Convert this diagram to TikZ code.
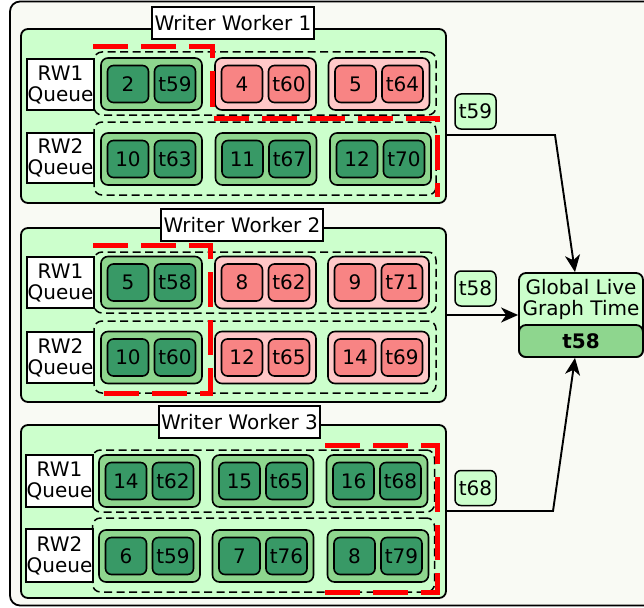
\documentclass[tikz,border=0pt]{standalone}
\usepackage{fontspec}
\setmainfont{DejaVu Sans}
\usetikzlibrary{arrows.meta}

\definecolor{bgpaper}{HTML}{F9FAF4}
\definecolor{paleg}{HTML}{CCFFCC}
\definecolor{midg}{HTML}{8ED68E}
\definecolor{darkg}{HTML}{389966}
\definecolor{palep}{HTML}{FFC8C8}
\definecolor{darkp}{HTML}{F88484}

\tikzset{
  txt/.style={font=\fontsize{20}{21}\selectfont},
  worker/.style={draw, fill=paleg, rounded corners=7pt, line width=1.8pt, inner sep=0pt},
  wtitle/.style={draw, fill=white, line width=1.6pt, txt, inner sep=0pt,
    minimum height=32pt},
  qlabel/.style={draw, fill=white, line width=1.5pt, txt, align=center,
    inner sep=0pt, minimum width=67pt},
  qdash/.style={draw, dash pattern=on 8pt off 4.5pt, line width=1.5pt,
    rounded corners=8pt, inner sep=0pt, minimum width=342pt},
  pairG/.style={draw, fill=midg, rounded corners=7pt, line width=1.6pt,
    minimum width=101pt, minimum height=52pt, inner sep=0pt},
  pairR/.style={pairG, fill=palep},
  cellG/.style={draw, fill=darkg, rounded corners=6pt, line width=1.6pt,
    minimum width=41pt, minimum height=37pt, inner sep=0pt, txt},
  cellR/.style={cellG, fill=darkp},
  tag/.style={draw, fill=paleg, rounded corners=6pt, line width=1.5pt,
    minimum width=41pt, minimum height=35pt, inner sep=0pt, txt},
  redline/.style={draw=red, line width=5pt, dash pattern=on 35pt off 13pt},
  flow/.style={line width=1.9pt, -{Stealth[length=17pt,width=15pt,inset=5pt]}},
}

% #1 name, #2 x, #3 y, #4 G or R, #5 count, #6 timestamp
\newcommand\qpair[6]{%
  \node[pair#4] (#1) at (#2,#3) {};
  \node[cell#4] (#1-n) at ([xshift=-23.5pt]#1.center) {#5};
  \node[cell#4] (#1-t) at ([xshift=23.5pt]#1.center) {#6};
}

\begin{document}
\begin{tikzpicture}[x=1pt,y=-1pt]
  \fill[white] (0,0) rectangle (644,607);
  \useasboundingbox (0,0) rectangle (644,607);
  \begin{scope}
    \clip (0,0) rectangle (644,607);
    \draw[fill=bgpaper, line width=1.8pt, rounded corners=10pt] (10,1.5) rectangle (670,605.5);
  \end{scope}

  % ---------------- Writer Worker 1 ----------------
  \node[worker, minimum width=425pt, minimum height=174pt] (w1) at (233.5,116) {};
  \node[wtitle, minimum width=162pt] (w1t) at (233,23) {Writer Worker 1};
  \node[qdash, minimum height=63pt] (w1q1) at (265,83.5) {};
  \node[qdash, minimum height=73pt] (w1q2) at (265,158.5) {};
  \node[qlabel, minimum height=51pt] (w1l1) at (60.5,84.5) {RW1\\Queue};
  \node[qlabel, minimum height=50pt] (w1l2) at (60.5,158) {RW2\\Queue};
  \qpair{a1}{151.5}{84}{G}{2}{t59}
  \qpair{a2}{265.5}{84}{R}{4}{t60}
  \qpair{a3}{379}{84}{R}{5}{t64}
  \qpair{a4}{151.5}{159}{G}{10}{t63}
  \qpair{a5}{266}{159}{G}{11}{t67}
  \qpair{a6}{380.5}{159}{G}{12}{t70}
  \draw[redline] (93,47) -- (212.5,47) -- (212.5,118) -- (437,118) -- (437,197);

  % ---------------- Writer Worker 2 ----------------
  \node[worker, minimum width=425pt, minimum height=174pt] (w2) at (233.5,315) {};
  \node[wtitle, minimum width=162pt] (w2t) at (242,225) {Writer Worker 2};
  \node[qdash, minimum height=61pt] (w2q1) at (265,282.5) {};
  \node[qdash, minimum height=72pt] (w2q2) at (265,357) {};
  \node[qlabel, minimum height=51pt] (w2l1) at (60.5,282.5) {RW1\\Queue};
  \node[qlabel, minimum height=51pt] (w2l2) at (60.5,357.5) {RW2\\Queue};
  \qpair{b1}{151.5}{282.5}{G}{5}{t58}
  \qpair{b2}{265.5}{282.5}{R}{8}{t62}
  \qpair{b3}{378.5}{282.5}{R}{9}{t71}
  \qpair{b4}{151.5}{357.5}{G}{10}{t60}
  \qpair{b5}{265.5}{357.5}{R}{12}{t65}
  \qpair{b6}{378.5}{357.5}{R}{14}{t69}
  \draw[redline] (93,245) -- (210,245) -- (210,393) -- (97,393);

  % ---------------- Writer Worker 3 ----------------
  \node[worker, minimum width=425pt, minimum height=173pt] (w3) at (233.5,511.5) {};
  \node[wtitle, minimum width=161pt] (w3t) at (239.5,422) {Writer Worker 3};
  \node[qdash, minimum height=62pt] (w3q1) at (263.5,481) {};
  \node[qdash, minimum height=74pt] (w3q2) at (263.5,555) {};
  \node[qlabel, minimum height=52pt] (w3l1) at (59.5,481) {RW1\\Queue};
  \node[qlabel, minimum height=53pt] (w3l2) at (59.5,555.5) {RW2\\Queue};
  \qpair{c1}{149.5}{481}{G}{14}{t62}
  \qpair{c2}{263}{481}{G}{15}{t65}
  \qpair{c3}{377}{481}{G}{16}{t68}
  \qpair{c4}{149.5}{556}{G}{6}{t59}
  \qpair{c5}{263}{556}{G}{7}{t76}
  \qpair{c6}{378}{556}{G}{8}{t79}
  \draw[redline] (325,445) -- (437,445) -- (437,592) -- (325,592);

  % ---------------- Global live graph time ----------------
  \node[draw, fill=paleg, rounded corners=7pt, line width=1.8pt, inner sep=0pt,
        minimum width=124pt, minimum height=84pt] (glt) at (581,315) {};
  \node[draw, fill=midg, rounded corners=7pt, line width=1.8pt, inner sep=0pt,
        minimum width=124pt, minimum height=32pt, txt, font=\fontsize{20}{21}\selectfont\bfseries]
        (gltv) at (581,341) {t58};
  \node[txt, align=center, inner sep=0pt] (gltl) at (581,299) {Global Live\\Graph Time};

  % ---------------- Per-worker times and connectors ----------------
  \node[tag] (t1) at (475.5,111.5) {t59};
  \node[tag] (t2) at (475.5,288.5) {t58};
  \node[tag] (t3) at (475.5,488) {t68};

  \coordinate (j1) at (555,135);
  \coordinate (j3) at (553,511);
  \draw[flow] (w1.east |- j1) -- (j1) -- ([xshift=-6pt]glt.north);
  \draw[flow] (w2.east) -- (glt.west);
  \draw[flow] (w3.east |- j3) -- (j3) -- ([xshift=-6pt]glt.south);
\end{tikzpicture}
\end{document}
